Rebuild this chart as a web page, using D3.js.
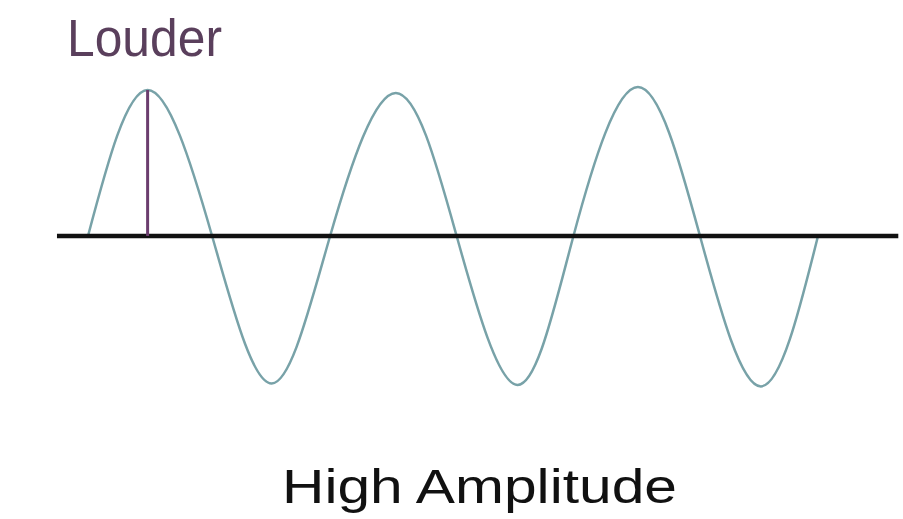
<!DOCTYPE html>
<html>
<head>
<meta charset="utf-8">
<script src="https://cdn.jsdelivr.net/npm/d3@7"></script>
<style>
  html, body { margin: 0; padding: 0; background: #fff; }
  svg { display: block; }
</style>
</head>
<body>
<div id="chart"></div>
<script>
// wave: time in half-periods, amplitude relative to baseline
const waveTime = [0, 0.49, 1.02, 1.51, 1.99, 2.53, 3.03, 3.53, 3.99, 4.52, 5.03, 5.53, 6.0];
const waveAmp  = [0, 1.0, 0, -1.01, 0, 0.98, 0, -1.02, 0, 1.02, 0, -1.03, 0];

// baseline extent (time units)
const axisExtent = [-0.255, 6.66];

// the marker on the first crest
const markerTime = 0.49;
const markerAmp = 1.0;

const topLabel = 'Louder';
const bottomLabel = 'High Amplitude';

const width = 903;
const height = 519;

const svg = d3.select('#chart')
    .append('svg')
    .attr('width', width)
    .attr('height', height);

const x = d3.scaleLinear().domain([0, 6]).range([88, 818]);
const y = d3.scaleLinear().domain([-1, 1]).range([382, 90]);

const points = waveTime.map((t, i) => [t, waveAmp[i]]);

// wave
const line = d3.line()
    .x(d => x(d[0]))
    .y(d => y(d[1]))
    .curve(d3.curveNatural);

svg.append('path')
    .attr('d', line(points))
    .style('fill', 'none')
    .style('stroke', '#78a2a8')
    .style('stroke-width', 2.5);

// baseline
svg.append('line')
    .attr('x1', x(axisExtent[0]))
    .attr('x2', x(axisExtent[1]))
    .attr('y1', y(0))
    .attr('y2', y(0))
    .style('stroke', '#111')
    .style('stroke-width', 4.5);

// amplitude marker
svg.append('line')
    .attr('x1', x(markerTime))
    .attr('x2', x(markerTime))
    .attr('y1', y(markerAmp))
    .attr('y2', y(0))
    .style('stroke', '#6b3d6e')
    .style('stroke-width', 3);

svg.append('text')
    .attr('x', 67)
    .attr('y', 56)
    .attr('textLength', 155)
    .attr('lengthAdjust', 'spacingAndGlyphs')
    .style('font-family', 'Liberation Sans, Arial, sans-serif')
    .style('font-size', '51px')
    .style('fill', '#5a3f5c')
    .text(topLabel);

svg.append('text')
    .attr('x', 282)
    .attr('y', 503)
    .attr('textLength', 395)
    .attr('lengthAdjust', 'spacingAndGlyphs')
    .style('font-family', 'Liberation Sans, Arial, sans-serif')
    .style('font-size', '49px')
    .style('fill', '#111')
    .text(bottomLabel);
</script>
</body>
</html>
